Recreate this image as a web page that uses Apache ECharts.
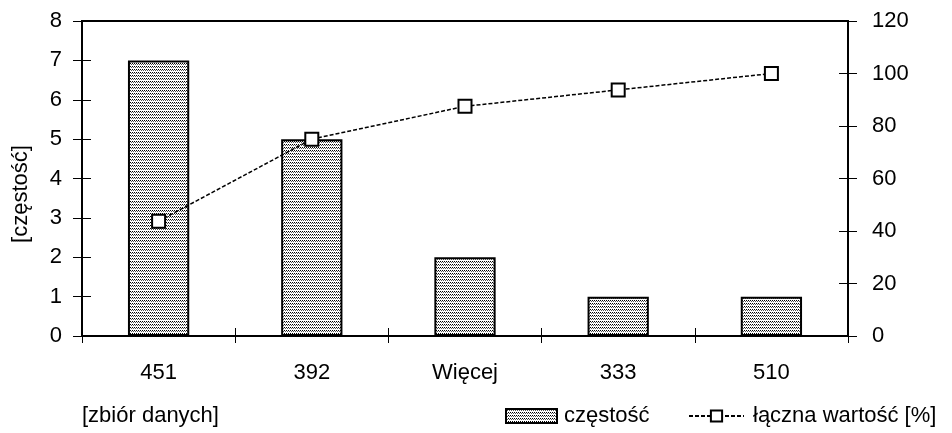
<!DOCTYPE html>
<html><head><meta charset="utf-8">
<script src="https://cdn.jsdelivr.net/npm/echarts@6/dist/echarts.min.js"></script>
<style>html,body{margin:0;padding:0;background:#fff}#c{width:952px;height:433px}</style>
</head><body><div id="c"></div>
<script>
const categories = ['451', '392', 'Więcej', '333', '510'];
const frequency = [7, 5, 2, 1, 1];
const cumulative = [43.75, 75, 87.5, 93.75, 100];
const leftTicks = [0, 1, 2, 3, 4, 5, 6, 7, 8];
const rightTicks = [0, 20, 40, 60, 80, 100, 120];

function makePattern() {
  const c = document.createElement('canvas');
  c.width = 4; c.height = 3;
  const g = c.getContext('2d');
  g.fillStyle = '#ffffff'; g.fillRect(0, 0, 4, 3);
  g.fillStyle = '#000000';
  g.fillRect(0, 0, 1, 1); g.fillRect(2, 0, 1, 1);
  g.fillStyle = '#555555';
  g.fillRect(1, 1, 1, 1); g.fillRect(3, 1, 1, 1);
  return c;
}
const pattern = { image: makePattern(), repeat: 'repeat' };

const font = 'Liberation Sans, Arial, sans-serif';
const fs = 22;
const chart = echarts.init(document.getElementById('c'), null, { renderer: 'canvas' });
const lineAxis = { show: true, lineStyle: { color: '#000', width: 2 } };
chart.setOption({
  animation: false,
  backgroundColor: '#fff',
  textStyle: { fontFamily: font, color: '#000' },
  grid: { left: 82, right: 104, top: 21, bottom: 97, show: true, borderColor: '#000', borderWidth: 2, containLabel: false, outerBoundsMode: 'none' },
  legend: [{
    data: [{ name: 'częstość', icon: 'rect' }], left: 505, top: 405, padding: 0, itemWidth: 51, itemHeight: 14, itemGap: 8,
    textStyle: { fontSize: fs, fontFamily: font, color: '#000', padding: [0, 0, 0, 2] }
  }, {
    data: ['łączna wartość [%]'], left: 688, top: 405, padding: 0, itemWidth: 55, itemHeight: 14,
    textStyle: { fontSize: fs, fontFamily: font, color: '#000', padding: [0, 0, 0, 4] }
  }],
  xAxis: [{
    type: 'category', data: categories, position: 'bottom',
    axisLine: lineAxis,
    axisTick: { show: true, inside: false, length: 7, lineStyle: { color: '#000', width: 1 } },
    axisLabel: { fontSize: fs, color: '#000', margin: 26, fontFamily: font },
    splitLine: { show: false }
  }, {
    type: 'category', data: categories, position: 'bottom', gridIndex: 0,
    axisLine: { show: false },
    axisTick: { show: true, inside: true, length: 8, lineStyle: { color: '#000', width: 1 } },
    axisLabel: { show: false }, splitLine: { show: false }
  }],
  yAxis: [{
    type: 'value', min: 0, max: 8, interval: 1, position: 'left',
    axisLine: lineAxis,
    axisTick: { show: true, inside: false, length: 9, lineStyle: { color: '#000', width: 1 } },
    axisLabel: { fontSize: fs, color: '#000', margin: 20, fontFamily: font },
    splitLine: { show: false }
  }, {
    type: 'value', min: 0, max: 120, interval: 20, position: 'right',
    axisLine: lineAxis,
    axisTick: { show: true, inside: false, length: 9, lineStyle: { color: '#000', width: 1 } },
    axisLabel: { fontSize: fs, color: '#000', margin: 24, fontFamily: font },
    splitLine: { show: false }
  }, {
    type: 'value', min: 0, max: 8, interval: 1, position: 'left',
    axisLine: { show: false },
    axisTick: { show: true, inside: true, length: 9, lineStyle: { color: '#000', width: 1 } },
    axisLabel: { show: false }, splitLine: { show: false }
  }, {
    type: 'value', min: 0, max: 120, interval: 20, position: 'right',
    axisLine: { show: false },
    axisTick: { show: true, inside: true, length: 9, lineStyle: { color: '#000', width: 1 } },
    axisLabel: { show: false }, splitLine: { show: false }
  }],
  graphic: [{
    type: 'text', left: 82, top: 405,
    style: { text: '[zbiór danych]', fontSize: fs, fontFamily: font, fill: '#000' }
  }, {
    type: 'text', x: 21, y: 194, rotation: Math.PI / 2,
    style: { text: '[częstość]', fontSize: fs, fontFamily: font, fill: '#000', align: 'center', verticalAlign: 'middle' }
  }],
  series: [{
    name: 'częstość', type: 'bar', data: frequency, barWidth: '40%',
    xAxisIndex: 0, yAxisIndex: 0,
    itemStyle: { color: pattern, borderColor: '#000', borderWidth: 2 }
  }, {
    name: 'łączna wartość [%]', type: 'line', data: cumulative,
    xAxisIndex: 0, yAxisIndex: 1,
    symbol: 'rect', symbolSize: 13,
    lineStyle: { color: '#000', width: 1.5, type: [4, 2] },
    itemStyle: { color: '#fff', borderColor: '#000', borderWidth: 2 },
    z: 5
  }]
});
</script></body></html>
